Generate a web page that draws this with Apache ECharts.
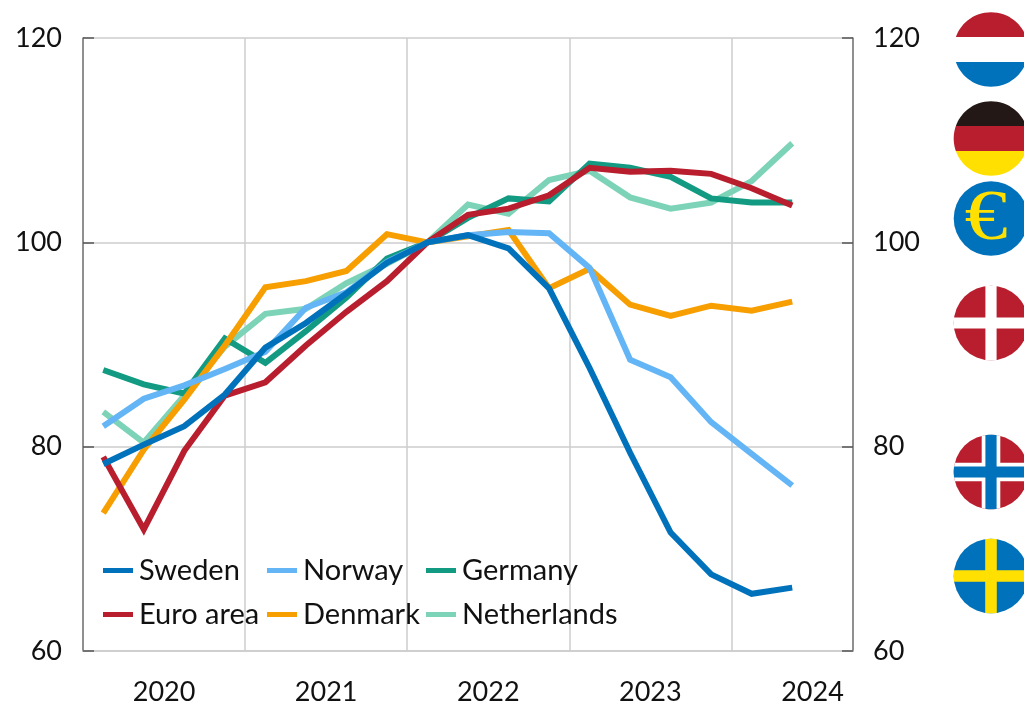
<!DOCTYPE html>
<html>
<head>
<meta charset="utf-8">
<style>html,body{margin:0;padding:0;background:#fff}#c{width:1024px;height:702px}</style>
<script src="https://cdn.jsdelivr.net/npm/echarts@6/dist/echarts.min.js"></script>
</head>
<body>
<div id="c"></div>
<script>
const quarters = ['2020Q1','2020Q2','2020Q3','2020Q4','2021Q1','2021Q2','2021Q3','2021Q4','2022Q1','2022Q2','2022Q3','2022Q4','2023Q1','2023Q2','2023Q3','2023Q4','2024Q1','2024Q2','2024Q3'];
const yearLabels = ['2020','2021','2022','2023','2024'];
const sweden = [78.3,80.2,82.0,85.1,89.7,92.1,95.0,98.0,100,100.7,99.4,95.5,87.7,79.4,71.6,67.5,65.6,66.2];
const norway = [82.0,84.7,86.0,87.6,89.3,93.6,95.1,98.1,100,100.7,101.0,100.9,97.5,88.5,86.8,82.4,79.3,76.2];
const germany = [87.5,86.1,85.2,90.6,88.2,91.3,94.6,98.4,100,102.4,104.3,104.0,107.7,107.3,106.4,104.3,103.9,103.9];
const euroArea = [79.0,71.9,79.6,85.0,86.3,89.9,93.2,96.2,100,102.7,103.3,104.6,107.3,106.9,107.0,106.7,105.3,103.6];
const denmark = [73.5,79.7,84.6,89.9,95.6,96.2,97.2,100.8,100,100.6,101.2,95.5,97.4,93.9,92.8,93.8,93.3,94.2];
const netherlands = [83.4,80.4,85.0,89.8,93.0,93.5,96.0,97.9,100,103.7,102.8,106.1,107.0,104.4,103.3,103.9,106.0,109.7];

const C = {se:'#0072BB', no:'#64B5F6', de:'#129B82', eu:'#B81E2D', dk:'#F79E00', nl:'#7DD3B7', yellow:'#FFE000', black:'#231815'};
const FONT = 'Lato';
const line = (name, data, color) => ({name, type:'line', data, symbol:'none', smooth:false, xAxisIndex:0, yAxisIndex:0,
  lineStyle:{color, width:6, cap:'butt', join:'miter'}, itemStyle:{color}, z:2});

// Flags: slices of a circle built as polygons
const FX = 991, R = 37.3;
function band(cy, d1, d2, vertical, fill) {
  const pts = [], n = 48;
  const pt = (d, s) => { const w = s * Math.sqrt(Math.max(0, R*R - d*d)); return vertical ? [FX + d, cy + w] : [FX + w, cy + d]; };
  for (let i = 0; i <= n; i++) pts.push(pt(d1 + (d2-d1)*i/n, 1));
  for (let i = n; i >= 0; i--) pts.push(pt(d1 + (d2-d1)*i/n, -1));
  return {type:'polygon', silent:true, shape:{points:pts}, style:{fill}};
}
const disc = (cy, fill) => ({type:'circle', silent:true, shape:{cx:FX, cy, r:R}, style:{fill}});
const cross = (cy, hw, fill) => [band(cy,-hw,hw,false,fill), band(cy,-hw,hw,true,fill)];
const flags = [
  band(49.5,-R,-12.5,false,C.eu), band(49.5,12.5,R,false,C.se),
  band(138.5,-R,-12.5,false,C.black), band(138.5,-12.5,12.5,false,C.eu), band(138.5,12.5,R,false,C.yellow),
  disc(218.5,C.se),
  {type:'text', silent:true, x:986, y:220, scaleX:1.2, style:{text:'€', fill:C.yellow, font:'72px "Liberation Serif"', align:'center', verticalAlign:'middle'}},
  disc(323,C.eu), ...cross(323,5.6,'#fff'),
  disc(472,C.eu), ...cross(472,9.3,'#fff'), ...cross(472,5.6,C.se),
  disc(576,C.se), ...cross(576,5.8,C.yellow)
];

const legendBase = {orient:'vertical', top:556, padding:0, itemWidth:30, itemHeight:5, itemGap:15, icon:'rect',
  textStyle:{fontFamily:FONT, fontSize:29, color:'#111', padding:[0,0,0,1]}};

const chart = echarts.init(document.getElementById('c'), null, {renderer:'canvas', width:1024, height:702});
chart.setOption({
  animation:false,
  backgroundColor:'#fff',
  textStyle:{fontFamily:FONT},
  grid:{left:83, top:38, width:770, height:613, containLabel:false, outerBoundsMode:'none'},
  legend:[
    {...legendBase, left:103, data:['Sweden','Euro area']},
    {...legendBase, left:267, data:['Norway','Denmark']},
    {...legendBase, left:426, data:['Germany','Netherlands']}
  ],
  xAxis:[
    {type:'category', data:quarters, boundaryGap:true, position:'bottom',
      axisLine:{show:true, lineStyle:{color:'#ccc', width:1.5}}, axisTick:{show:false}, axisLabel:{show:false},
      splitLine:{show:true, interval:(i)=>i%4===0, lineStyle:{color:'#ccc', width:1.5}}},
    {type:'value', min:0, max:quarters.length, position:'bottom',
      axisLine:{show:false}, axisTick:{show:false}, splitLine:{show:false},
      axisLabel:{show:true, customValues:yearLabels.map((_,i)=>2+4*i), formatter:(v)=>yearLabels[(v-2)/4],
        hideOverlap:false, showMinLabel:true, showMaxLabel:true, margin:28, fontFamily:FONT, fontSize:27, color:'#111'}}
  ],
  yAxis:[
    {type:'value', min:60, max:120, interval:20, position:'left',
      axisLine:{show:true, lineStyle:{color:'#777', width:1.5}},
      axisTick:{show:true, inside:true, length:11, lineStyle:{color:'#555', width:1.5}},
      axisLabel:{margin:21, padding:[2,0,0,0], fontFamily:FONT, fontSize:27, color:'#111'},
      splitLine:{show:true, lineStyle:{color:'#ccc', width:1.5}}},
    {type:'value', min:60, max:120, interval:20, position:'right',
      axisLine:{show:true, lineStyle:{color:'#777', width:1.5}},
      axisTick:{show:true, inside:true, length:11, lineStyle:{color:'#555', width:1.5}},
      axisLabel:{margin:20, padding:[2,0,0,0], fontFamily:FONT, fontSize:27, color:'#111'},
      splitLine:{show:false}}
  ],
  series:[
    line('Netherlands', netherlands, C.nl),
    line('Germany', germany, C.de),
    line('Denmark', denmark, C.dk),
    line('Euro area', euroArea, C.eu),
    line('Norway', norway, C.no),
    line('Sweden', sweden, C.se)
  ],
  graphic:flags
});
</script>
</body>
</html>
